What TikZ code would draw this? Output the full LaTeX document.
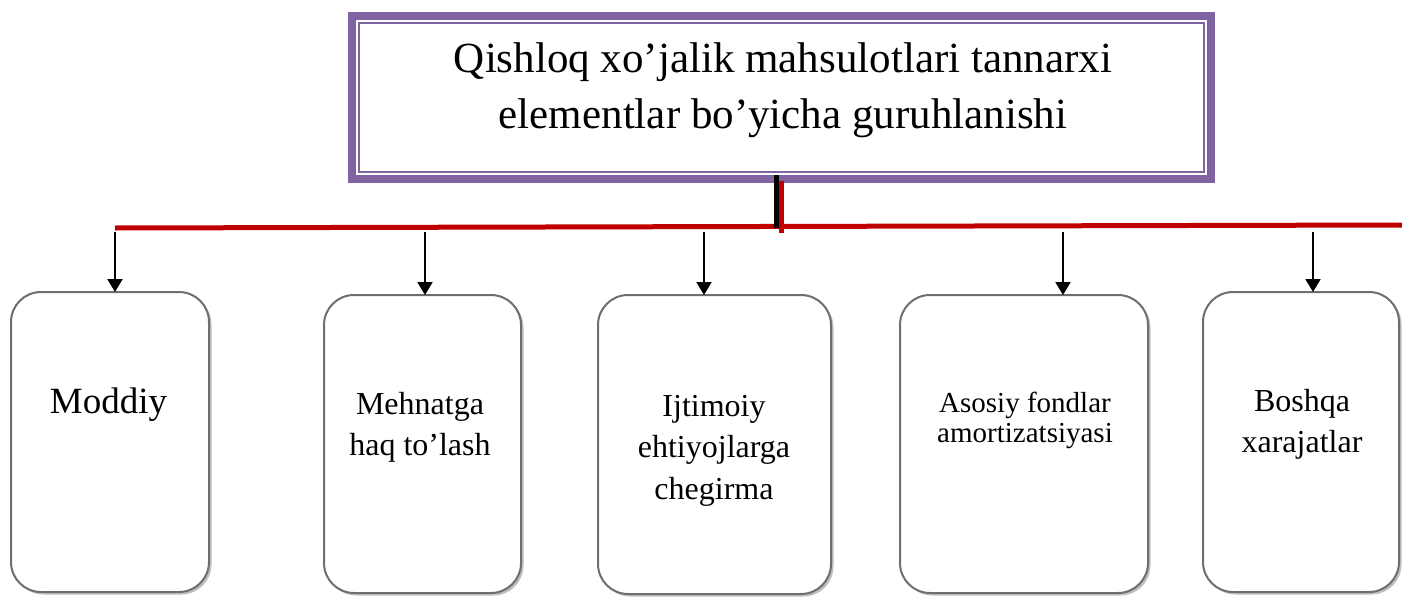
\documentclass[tikz,border=0pt]{standalone}
\usepackage{fontspec}
\setmainfont{Liberation Serif}
\usetikzlibrary{arrows.meta,shadows}
\definecolor{ttlpurple}{HTML}{8064A2}
\definecolor{linered}{HTML}{C00000}
\definecolor{boxgray}{HTML}{6E6E6E}
\begin{document}
\begin{tikzpicture}[x=1pt,y=-1pt,
  titlebox/.style={draw=ttlpurple, line width=8pt, outer sep=0pt, inner sep=0pt, fill=white},
  catbox/.style={draw=boxgray, line width=2pt, rounded corners=30pt, fill=white, outer sep=0pt, inner sep=0pt,
    drop shadow={shadow xshift=2.5pt, shadow yshift=-2.5pt, fill=black!25, opacity=1}},
  lbl/.style={anchor=north, inner sep=0pt, align=center, text=black},
  arr/.style={-{Triangle[width=15pt,length=13pt]}, line width=2pt, black},
  redline/.style={draw=linered, line width=5pt},
  blkline/.style={draw=black, line width=5pt},
]
\useasboundingbox (0,0) rectangle (1402,597);
\fill[white] (0,0) rectangle (1402,597);

% title
\node[titlebox, minimum width=859pt, minimum height=163pt] (t) at (781.5,97.5) {};
\draw[ttlpurple, line width=1.5pt] ([shift={(7,7)}]t.north west) rectangle ([shift={(-7,-7)}]t.south east);
\node[lbl, font=\fontsize{43}{56}\selectfont] (tt) at (783,42.8)
  {Qishloq xo’jalik mahsulotlari tannarxi\\elementlar bo’yicha guruhlanishi};

% boxes
\node[catbox, minimum width=198pt, minimum height=300pt] (b1) at (110,442) {};
\node[catbox, minimum width=197pt, minimum height=298pt] (b2) at (422.5,444) {};
\node[catbox, minimum width=233pt, minimum height=299pt] (b3) at (714.5,444.5) {};
\node[catbox, minimum width=248pt, minimum height=298pt] (b4) at (1024,444) {};
\node[catbox, minimum width=196pt, minimum height=300pt] (b5) at (1301,442) {};

% labels
\node[lbl, font=\fontsize{37}{44}\selectfont] (l1) at (108.5,387.7) {Moddiy};
\node[lbl, font=\fontsize{32}{41}\selectfont] (l2) at (420,392) {Mehnatga\\haq to’lash};
\node[lbl, font=\fontsize{32}{41.5}\selectfont] (l3) at (714,395) {Ijtimoiy\\ehtiyojlarga\\chegirma};
\node[lbl, font=\fontsize{29}{30}\selectfont] (l4) at (1025,392) {Asosiy fondlar\\amortizatsiyasi};
\node[lbl, font=\fontsize{32}{41}\selectfont] (l5) at (1302,389) {Boshqa\\xarajatlar};

% connectors
\coordinate (hl) at (115,228);
\coordinate (hr) at (1402,225);
\draw[redline] (hl) -- (hr);
\coordinate (bt) at (776,175);
\coordinate (bb) at (776,228);
\draw[blkline] (bt) -- (bb);
\coordinate (rt) at (781.5,181);
\coordinate (rb) at (781.5,233);
\draw[redline] (rt) -- (rb);

\coordinate (a1) at (115,232);
\coordinate (a2) at (425,232);
\coordinate (a3) at (704,232);
\coordinate (a4) at (1063,232);
\coordinate (a5) at (1313,232);
\draw[arr] (a1) -- (a1 |- b1.north);
\draw[arr] (a2) -- (a2 |- b2.north);
\draw[arr] (a3) -- (a3 |- b3.north);
\draw[arr] (a4) -- (a4 |- b4.north);
\draw[arr] (a5) -- (a5 |- b5.north);
\end{tikzpicture}
\end{document}
